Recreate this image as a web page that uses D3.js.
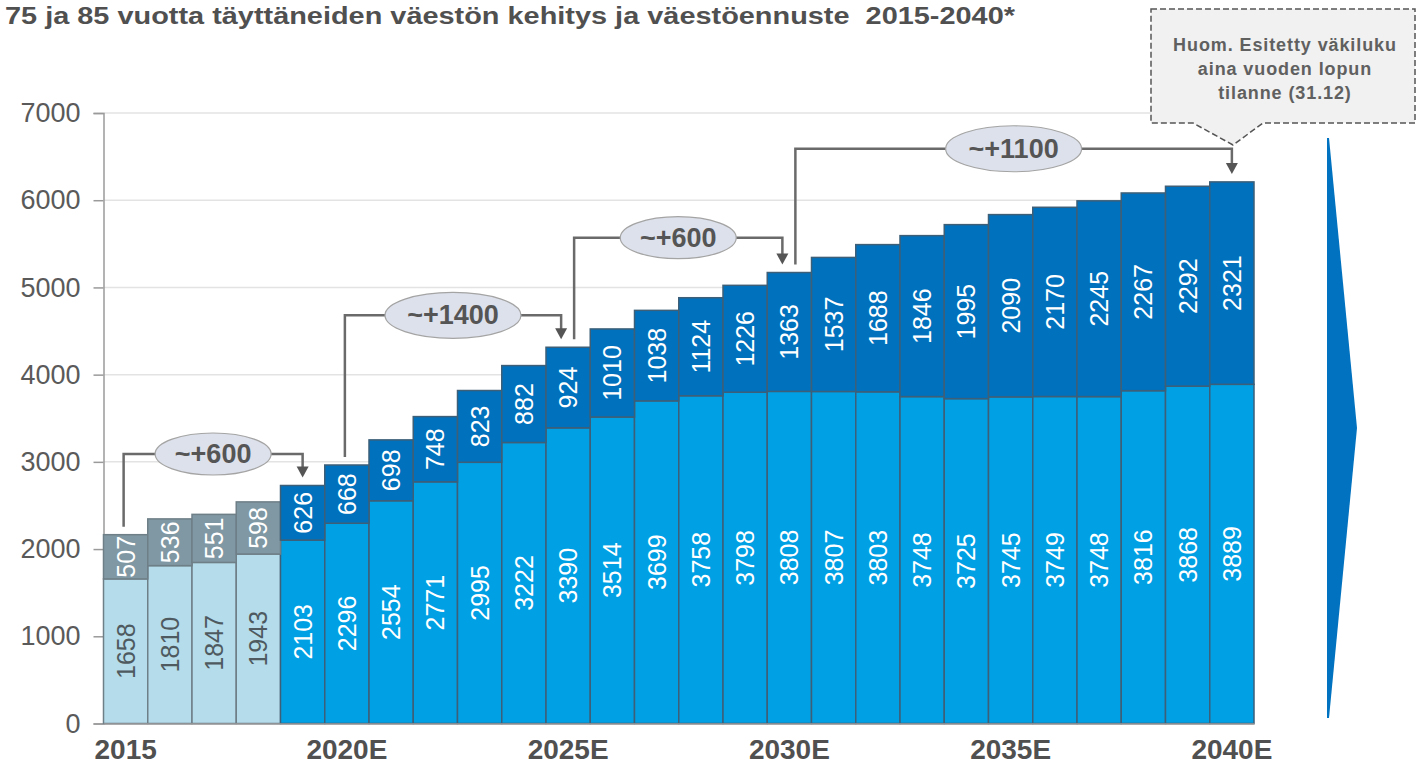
<!DOCTYPE html>
<html><head><meta charset="utf-8">
<script src="https://cdn.jsdelivr.net/npm/d3@7"></script>
<style>
body{margin:0;background:#fff;}
svg{display:block;font-family:"Liberation Sans",Arial,sans-serif;}
</style></head>
<body><svg id="c" width="1416" height="764"></svg>
<script>
// ---- data ----
const years = [2015,2016,2017,2018,2019,2020,2021,2022,2023,2024,2025,2026,2027,2028,2029,2030,2031,2032,2033,2034,2035,2036,2037,2038,2039,2040];
const age75to84 = [1658,1810,1847,1943,2103,2296,2554,2771,2995,3222,3390,3514,3699,3758,3798,3808,3807,3803,3748,3725,3745,3749,3748,3816,3868,3889];
const age85plus = [507,536,551,598,626,668,698,748,823,882,924,1010,1038,1124,1226,1363,1537,1688,1846,1995,2090,2170,2245,2267,2292,2321];
const lastActualYear = 2018;
const xTickYears = [2015,2020,2025,2030,2035,2040];
const xTickLabels = ["2015","2020E","2025E","2030E","2035E","2040E"];
const yTicks = [0,1000,2000,3000,4000,5000,6000,7000];
const bracketFrom = [2015,2020,2025,2030];
const bracketTo = [2019,2025,2030,2040];
const bracketLevel = [3090,4680,5570,6590];
const bracketLabels = ["~+600","~+1400","~+600","~+1100"];
const titleText = "75 ja 85 vuotta täyttäneiden väestön kehitys ja väestöennuste  2015-2040*";
const noteLines = ["Huom. Esitetty väkiluku","aina vuoden lopun","tilanne (31.12)"];

// ---- layout ----
const svg = d3.select("#c");
const x = d3.scaleBand().domain(years).range([103.5,1254]).padding(0);
const y = d3.scaleLinear().domain([0,7000]).range([723.5,113]);
const rows = years.map((yr,i)=>({year:yr, low:age75to84[i], high:age85plus[i], total:age75to84[i]+age85plus[i], actual: yr<=lastActualYear}));

// title
svg.append("text").attr("x",5).attr("y",24).attr("xml:space","preserve").style("white-space","pre")
  .attr("font-size",23).attr("font-weight","bold").attr("fill","#505050")
  .attr("textLength",1010).attr("lengthAdjust","spacingAndGlyphs")
  .text(titleText);

// gridlines
svg.append("g").selectAll("line").data(yTicks.filter(d=>d>0)).join("line")
  .attr("x1",103.5).attr("x2",1254).attr("y1",d=>y(d)).attr("y2",d=>y(d))
  .attr("stroke","#e3e3e3").attr("stroke-width",1.5);

// y axis
const yAx = svg.append("g").attr("transform","translate(103.5,0)")
  .call(d3.axisLeft(y).tickValues(yTicks).tickSize(10).tickPadding(13).tickFormat(d3.format("d")));
yAx.select(".domain").attr("stroke","#9a9a9a").attr("stroke-width",1.5);
yAx.selectAll(".tick line").attr("stroke","#9a9a9a").attr("stroke-width",1.5);
yAx.selectAll("text").attr("font-size",27).attr("fill","#5a5a5a").attr("font-family","'Liberation Sans',Arial,sans-serif");

// bars
const bw = x.bandwidth();
const g = svg.append("g");
g.selectAll("rect.low").data(rows).join("rect").attr("class","low")
  .attr("x",d=>x(d.year)).attr("width",bw)
  .attr("y",d=>y(d.low)).attr("height",d=>y(0)-y(d.low))
  .attr("fill",d=>d.actual?"#b5dcea":"#00a0e5")
  .attr("stroke",d=>d.actual?"#6f7f88":"#3d5f78").attr("stroke-width",1.5);
g.selectAll("rect.high").data(rows).join("rect").attr("class","high")
  .attr("x",d=>x(d.year)).attr("width",bw)
  .attr("y",d=>y(d.total)).attr("height",d=>y(d.low)-y(d.total))
  .attr("fill",d=>d.actual?"#8098a3":"#0071bd")
  .attr("stroke",d=>d.actual?"#6f7f88":"#3d5f78").attr("stroke-width",1.5);

// bar labels
const cx = d=>x(d.year)+bw/2;
g.selectAll("text.low").data(rows).join("text").attr("class","low")
  .attr("transform",d=>`translate(${cx(d)},${(y(0)+y(d.low))/2}) rotate(-90)`)
  .attr("text-anchor","middle").attr("dominant-baseline","central")
  .attr("font-size",25).attr("fill",d=>d.actual?"#4e5a60":"#ffffff")
  .text(d=>d.low);
g.selectAll("text.high").data(rows).join("text").attr("class","high")
  .attr("transform",d=>`translate(${cx(d)},${(y(d.low)+y(d.total))/2}) rotate(-90)`)
  .attr("text-anchor","middle").attr("dominant-baseline","central")
  .attr("font-size",25).attr("fill","#ffffff")
  .text(d=>d.high);

// x axis
const xAx = svg.append("g").attr("transform",`translate(0,${y(0)})`)
  .call(d3.axisBottom(x).tickValues(xTickYears).tickSize(0).tickPadding(16).tickFormat((d,i)=>xTickLabels[i]));
xAx.select(".domain").attr("stroke","#9a9a9a").attr("stroke-width",1.5);
xAx.selectAll("text").attr("font-size",28).attr("font-weight","bold").attr("fill","#505050").attr("font-family","'Liberation Sans',Arial,sans-serif");

// brackets
const totalOf = yr => rows.find(r=>r.year===yr).total;
const isTarget = yr => bracketTo.includes(yr);
const isSource = yr => bracketFrom.includes(yr);
const ann = svg.append("g");
bracketFrom.forEach((fy,i)=>{
  const ty = bracketTo[i];
  const xs = x(fy)+bw/2 + (isTarget(fy)? 6 : -2);
  const xe = x(ty)+bw/2 + (isSource(ty)? -7 : 0);
  const ly = y(bracketLevel[i]);
  const ys = y(totalOf(fy))-8;
  const ye = y(totalOf(ty))-8;
  ann.append("path")
    .attr("d",`M${xs},${ys} V${ly} H${xe} V${ye-9}`)
    .attr("fill","none").attr("stroke","#6a6a6a").attr("stroke-width",2.5);
  ann.append("path")
    .attr("d",`M${xe-6},${ye-11} L${xe+6},${ye-11} L${xe},${ye} Z`)
    .attr("fill","#555");
  const mx = (xs+xe)/2;
  const wide = bracketLabels[i].length>5;
  ann.append("ellipse").attr("cx",mx).attr("cy",ly).attr("rx",wide?68:58).attr("ry",wide?23:21)
    .attr("fill","#dde1eb").attr("stroke","#a4a4a4").attr("stroke-width",1.2);
  ann.append("text").attr("x",mx).attr("y",ly).attr("text-anchor","middle").attr("dominant-baseline","central")
    .attr("font-size",27).attr("font-weight","bold").attr("fill","#555555").text(bracketLabels[i]);
});

// note callout
svg.append("path")
  .attr("d","M1151,9 H1415 V123 H1263 L1233,145 L1193,123 H1151 Z")
  .attr("fill","#f1f1f1").attr("stroke","#555").attr("stroke-width",1.5).attr("stroke-dasharray","6,3");
svg.append("g").selectAll("text").data(noteLines).join("text")
  .attr("x",1285).attr("y",(d,i)=>51+i*24).attr("text-anchor","middle")
  .attr("font-size",18).attr("letter-spacing",0.9).attr("font-weight","bold").attr("fill","#606060").text(d=>d);

// big arrow on the right
svg.append("path").attr("d","M1327,138 L1329,138 L1357,428 L1329,718 L1327,718 Z").attr("fill","#0072c0");
</script></body></html>
